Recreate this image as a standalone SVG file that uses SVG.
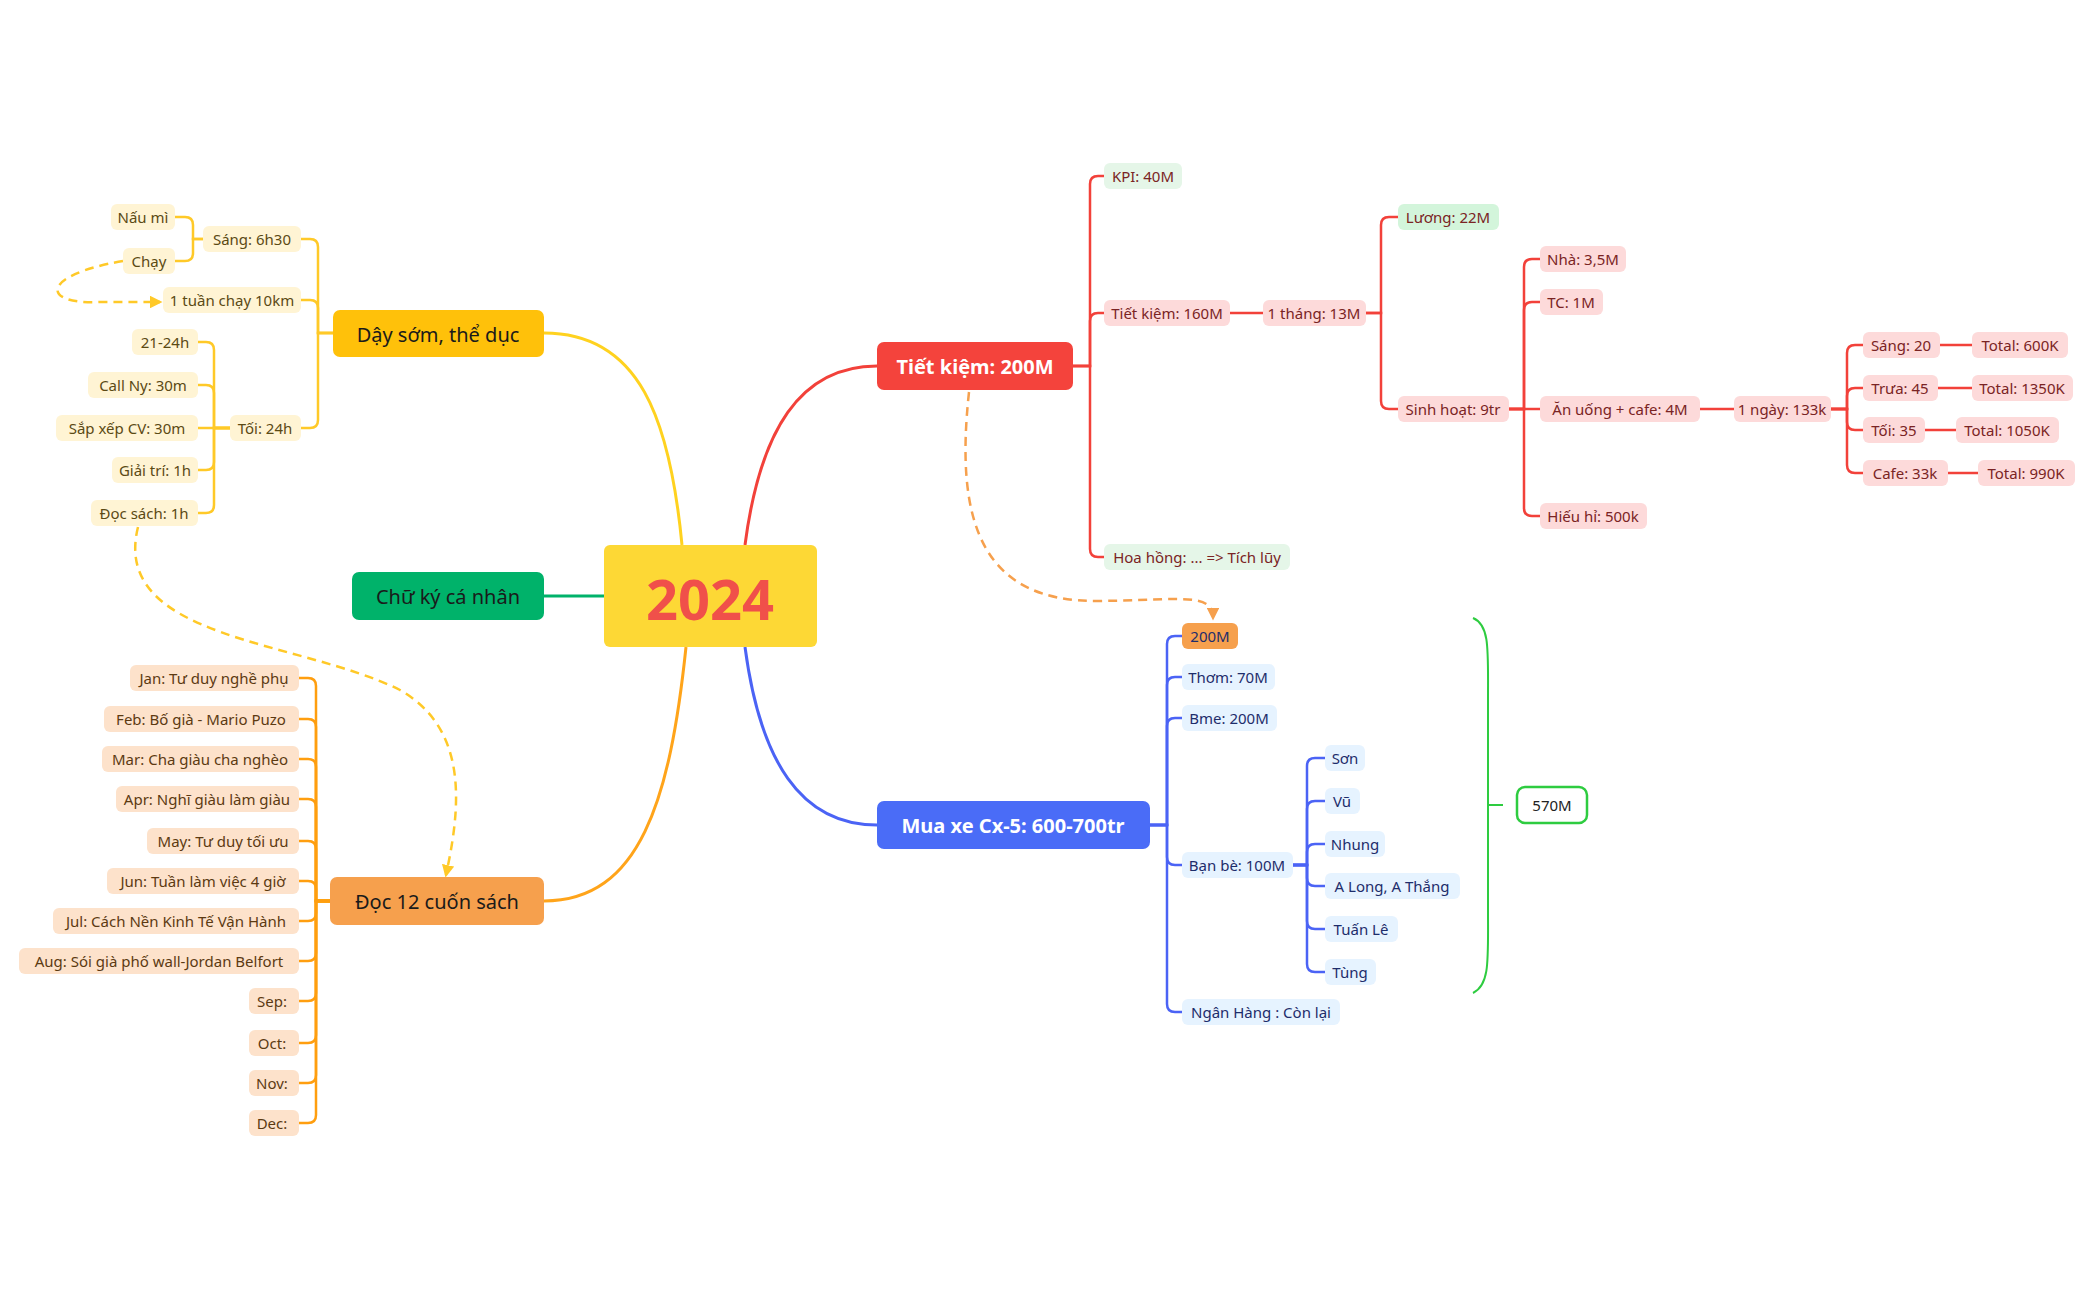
<svg xmlns="http://www.w3.org/2000/svg" width="2096" height="1300" viewBox="0 0 2096 1300">
<defs>
<style>
text{font-family:"Noto Sans","Open Sans",sans-serif;dominant-baseline:central;text-anchor:middle}
.s{font-size:15px}
.m{font-size:20px}
.y rect{fill:#FFF4D4}.y text{fill:#5B4A14}
.o rect{fill:#FDE2CB}.o text{fill:#5C3A12}
.r rect{fill:#FDDADA}.r text{fill:#7A2424}
.g rect{fill:#E5F6E8}.g text{fill:#7A2424}
.b rect{fill:#E6F3FF}.b text{fill:#1E2D6B}
.ly{stroke:#FFC928;stroke-width:2.5;fill:none}
.lo{stroke:#FF9E0F;stroke-width:2.5;fill:none}
.lr{stroke:#F2413A;stroke-width:2.5;fill:none}
.lb{stroke:#4B63F5;stroke-width:2.5;fill:none}
</style>
<marker id="ay" viewBox="0 0 10 10" refX="8" refY="5" markerWidth="5" markerHeight="5" orient="auto"><path d="M0,0L10,5L0,10z" fill="#FFC928"/></marker>
<marker id="ao" viewBox="0 0 10 10" refX="8" refY="5" markerWidth="5" markerHeight="5" orient="auto"><path d="M0,0L10,5L0,10z" fill="#F6A04D"/></marker>
</defs>
<rect width="2096" height="1300" fill="#fff"/>
<g id="connectors">
<path d="M682,545 C670,420 640,333 544,333" stroke="#FFD21F" stroke-width="3" fill="none"/>
<path d="M604,596 H544" stroke="#00B26A" stroke-width="3"/>
<path d="M686,647 C670,800 640,901 544,901" stroke="#FFA41A" stroke-width="3" fill="none"/>
<path d="M745,545 C760,430 800,366 877,366" stroke="#F2413A" stroke-width="3" fill="none"/>
<path d="M745,647 C760,760 800,825 877,825" stroke="#4B63F5" stroke-width="3" fill="none"/>
<g class="ly">
<path d="M333,333 H318 V247 Q318,239 310,239 H301"/>
<path d="M333,333 H318 V308 Q318,300 310,300 H301"/>
<path d="M333,333 H318 V420 Q318,428 310,428 H301"/>
<path d="M203,239 H193 V225 Q193,217 185,217 H175"/>
<path d="M203,239 H193 V253 Q193,261 185,261 H175"/>
<path d="M230,428 H214 V350 Q214,342 206,342 H198"/>
<path d="M230,428 H214 V393 Q214,385 206,385 H198"/>
<path d="M230,428 H198"/>
<path d="M230,428 H214 V462 Q214,470 206,470 H198"/>
<path d="M230,428 H214 V505 Q214,513 206,513 H198"/>
</g>
<g class="ly" stroke-dasharray="9,6">
<path d="M123,261 C40,275 40,305 100,302 L160,302" marker-end="url(#ay)"/>
<path d="M138,527 C110,640 300,640 400,690 C470,730 460,810 446,875" marker-end="url(#ay)"/>
</g>
<g class="lo">
<path d="M330,901 H316 V686 Q316,678 308,678 H299"/>
<path d="M330,901 H316 V727 Q316,719 308,719 H299"/>
<path d="M330,901 H316 V767 Q316,759 308,759 H299"/>
<path d="M330,901 H316 V807 Q316,799 308,799 H299"/>
<path d="M330,901 H316 V849 Q316,841 308,841 H299"/>
<path d="M330,901 H316 V889 Q316,881 308,881 H299"/>
<path d="M330,901 H316 V913 Q316,921 308,921 H299"/>
<path d="M330,901 H316 V953 Q316,961 308,961 H299"/>
<path d="M330,901 H316 V993 Q316,1001 308,1001 H299"/>
<path d="M330,901 H316 V1035 Q316,1043 308,1043 H299"/>
<path d="M330,901 H316 V1075 Q316,1083 308,1083 H299"/>
<path d="M330,901 H316 V1115 Q316,1123 308,1123 H299"/>
</g>
<g class="lr">
<path d="M1073,366 H1090 V184 Q1090,176 1098,176 H1104"/>
<path d="M1073,366 H1090 V321 Q1090,313 1098,313 H1104"/>
<path d="M1073,366 H1090 V549 Q1090,557 1098,557 H1104"/>
<path d="M1230,313 H1263"/>
<path d="M1366,313 H1381 V225 Q1381,217 1389,217 H1398"/>
<path d="M1366,313 H1381 V401 Q1381,409 1389,409 H1398"/>
<path d="M1509,409 H1524 V267 Q1524,259 1532,259 H1540"/>
<path d="M1509,409 H1524 V310 Q1524,302 1532,302 H1540"/>
<path d="M1509,409 H1540"/>
<path d="M1509,409 H1524 V508 Q1524,516 1532,516 H1540"/>
<path d="M1700,409 H1734"/>
<path d="M1831,409 H1847 V353 Q1847,345 1855,345 H1863"/>
<path d="M1831,409 H1847 V396 Q1847,388 1855,388 H1863"/>
<path d="M1831,409 H1847 V422 Q1847,430 1855,430 H1863"/>
<path d="M1831,409 H1847 V465 Q1847,473 1855,473 H1863"/>
<path d="M1940,345 H1972"/>
<path d="M1938,388 H1972"/>
<path d="M1925,430 H1956"/>
<path d="M1948,473 H1978"/>
</g>
<path d="M969,392 C955,520 980,603 1100,601 C1180,600 1213,592 1213,618" stroke="#F6A04D" stroke-width="2.5" fill="none" stroke-dasharray="9,6" marker-end="url(#ao)"/>
<g class="lb">
<path d="M1150,825 H1167 V644 Q1167,636 1175,636 H1182"/>
<path d="M1150,825 H1167 V685 Q1167,677 1175,677 H1182"/>
<path d="M1150,825 H1167 V726 Q1167,718 1175,718 H1182"/>
<path d="M1150,825 H1167 V857 Q1167,865 1175,865 H1182"/>
<path d="M1150,825 H1167 V1004 Q1167,1012 1175,1012 H1182"/>
<path d="M1293,865 H1307 V766 Q1307,758 1315,758 H1325"/>
<path d="M1293,865 H1307 V809 Q1307,801 1315,801 H1325"/>
<path d="M1293,865 H1307 V852 Q1307,844 1315,844 H1325"/>
<path d="M1293,865 H1307 V878 Q1307,886 1315,886 H1325"/>
<path d="M1293,865 H1307 V921 Q1307,929 1315,929 H1325"/>
<path d="M1293,865 H1307 V964 Q1307,972 1315,972 H1325"/>
</g>
<path d="M1473,618 C1490,625 1488,650 1488,700 V910 C1488,960 1490,985 1473,993 M1488,805 H1503" stroke="#2ECC40" stroke-width="2" fill="none"/>
</g>
<g id="n2024"><rect x="604" y="545" width="213" height="102" rx="6" fill="#FDD835"/><text x="710" y="598" font-size="56" font-weight="bold" fill="#F0504A">2024</text></g>
<g id="nday"><rect x="333" y="310" width="211" height="47" rx="7" fill="#FFC10A"/><text class="m" x="438" y="334" fill="#1a1a1a">Dậy sớm, thể dục</text></g>
<g id="nchu"><rect x="352" y="572" width="192" height="48" rx="7" fill="#00B26A"/><text class="m" x="448" y="596" fill="#1a1a1a">Chữ ký cá nhân</text></g>
<g id="ndoc"><rect x="330" y="877" width="214" height="48" rx="7" fill="#F6A04D"/><text class="m" x="437" y="901" fill="#1a1a1a">Đọc 12 cuốn sách</text></g>
<g id="ntiet"><rect x="877" y="342" width="196" height="48" rx="7" fill="#F4433C"/><text class="m" x="975" y="366" fill="#fff" font-weight="bold">Tiết kiệm: 200M</text></g>
<g id="nmua"><rect x="877" y="801" width="273" height="48" rx="7" fill="#4A6CF7"/><text class="m" x="1013" y="825" fill="#fff" font-weight="bold">Mua xe Cx-5: 600-700tr</text></g>
<g class="y s">
<g id="y1"><rect x="203" y="226" width="98" height="26" rx="6"/><text x="252" y="239">Sáng: 6h30</text></g>
<g id="y2"><rect x="111" y="204" width="64" height="26" rx="6"/><text x="143" y="217">Nấu mì</text></g>
<g id="y3"><rect x="123" y="248" width="52" height="26" rx="6"/><text x="149" y="261">Chạy</text></g>
<g id="y4"><rect x="163" y="287" width="138" height="26" rx="6"/><text x="232" y="300">1 tuần chạy 10km</text></g>
<g id="y5"><rect x="230" y="415" width="71" height="26" rx="6"/><text x="265" y="428">Tối: 24h</text></g>
<g id="y6"><rect x="132" y="329" width="66" height="26" rx="6"/><text x="165" y="342">21-24h</text></g>
<g id="y7"><rect x="88" y="372" width="110" height="26" rx="6"/><text x="143" y="385">Call Ny: 30m</text></g>
<g id="y8"><rect x="56" y="415" width="142" height="26" rx="6"/><text x="127" y="428">Sắp xếp CV: 30m</text></g>
<g id="y9"><rect x="112" y="457" width="86" height="26" rx="6"/><text x="155" y="470">Giải trí: 1h</text></g>
<g id="y10"><rect x="91" y="500" width="107" height="26" rx="6"/><text x="144" y="513">Đọc sách: 1h</text></g>
</g>
<g class="o s">
<g id="o1"><rect x="130" y="665" width="169" height="26" rx="6"/><text x="214" y="678">Jan: Tư duy nghề phụ</text></g>
<g id="o2"><rect x="104" y="706" width="195" height="26" rx="6"/><text x="201" y="719">Feb: Bố già - Mario Puzo</text></g>
<g id="o3"><rect x="102" y="746" width="197" height="26" rx="6"/><text x="200" y="759">Mar: Cha giàu cha nghèo</text></g>
<g id="o4"><rect x="116" y="786" width="183" height="26" rx="6"/><text x="207" y="799">Apr: Nghĩ giàu làm giàu</text></g>
<g id="o5"><rect x="147" y="828" width="152" height="26" rx="6"/><text x="223" y="841">May: Tư duy tối ưu</text></g>
<g id="o6"><rect x="107" y="868" width="192" height="26" rx="6"/><text x="203" y="881">Jun: Tuần làm việc 4 giờ</text></g>
<g id="o7"><rect x="53" y="908" width="246" height="26" rx="6"/><text x="176" y="921">Jul: Cách Nền Kinh Tế Vận Hành</text></g>
<g id="o8"><rect x="19" y="948" width="280" height="26" rx="6"/><text x="159" y="961">Aug: Sói già phố wall-Jordan Belfort</text></g>
<g id="o9"><rect x="249" y="988" width="50" height="26" rx="6"/><text x="272" y="1001">Sep:</text></g>
<g id="o10"><rect x="249" y="1030" width="50" height="26" rx="6"/><text x="272" y="1043">Oct:</text></g>
<g id="o11"><rect x="249" y="1070" width="50" height="26" rx="6"/><text x="272" y="1083">Nov:</text></g>
<g id="o12"><rect x="249" y="1110" width="50" height="26" rx="6"/><text x="272" y="1123">Dec:</text></g>
</g>
<g class="s">
<g id="r1" class="g"><rect x="1104" y="163" width="78" height="26" rx="6"/><text x="1143" y="176">KPI: 40M</text></g>
<g id="r2" class="r"><rect x="1104" y="300" width="126" height="26" rx="6"/><text x="1167" y="313">Tiết kiệm: 160M</text></g>
<g id="r3" class="g"><rect x="1104" y="544" width="186" height="26" rx="6"/><text x="1197" y="557">Hoa hồng: ... =&gt; Tích lũy</text></g>
<g id="r4" class="r"><rect x="1263" y="300" width="103" height="26" rx="6"/><text x="1314" y="313">1 tháng: 13M</text></g>
<g id="r5" class="g"><rect x="1398" y="204" width="101" height="26" rx="6" style="fill:#D3F5DB"/><text x="1448" y="217">Lương: 22M</text></g>
<g id="r6" class="r"><rect x="1398" y="396" width="111" height="26" rx="6"/><text x="1453" y="409">Sinh hoạt: 9tr</text></g>
<g id="r7" class="r"><rect x="1540" y="246" width="86" height="26" rx="6"/><text x="1583" y="259">Nhà: 3,5M</text></g>
<g id="r8" class="r"><rect x="1540" y="289" width="63" height="26" rx="6"/><text x="1571" y="302">TC: 1M</text></g>
<g id="r9" class="r"><rect x="1540" y="396" width="160" height="26" rx="6"/><text x="1620" y="409">Ăn uống + cafe: 4M</text></g>
<g id="r10" class="r"><rect x="1540" y="503" width="107" height="26" rx="6"/><text x="1593" y="516">Hiếu hỉ: 500k</text></g>
<g id="r11" class="r"><rect x="1734" y="396" width="97" height="26" rx="6"/><text x="1782" y="409">1 ngày: 133k</text></g>
<g id="r12" class="r"><rect x="1863" y="332" width="77" height="26" rx="6"/><text x="1901" y="345">Sáng: 20</text></g>
<g id="r13" class="r"><rect x="1972" y="332" width="96" height="26" rx="6"/><text x="2020" y="345">Total: 600K</text></g>
<g id="r14" class="r"><rect x="1863" y="375" width="75" height="26" rx="6"/><text x="1900" y="388">Trưa: 45</text></g>
<g id="r15" class="r"><rect x="1972" y="375" width="101" height="26" rx="6"/><text x="2022" y="388">Total: 1350K</text></g>
<g id="r16" class="r"><rect x="1863" y="417" width="62" height="26" rx="6"/><text x="1894" y="430">Tối: 35</text></g>
<g id="r17" class="r"><rect x="1956" y="417" width="103" height="26" rx="6"/><text x="2007" y="430">Total: 1050K</text></g>
<g id="r18" class="r"><rect x="1863" y="460" width="85" height="26" rx="6"/><text x="1905" y="473">Cafe: 33k</text></g>
<g id="r19" class="r"><rect x="1978" y="460" width="97" height="26" rx="6"/><text x="2026" y="473">Total: 990K</text></g>
</g>
<g class="b s">
<g id="b1"><rect x="1182" y="623" width="56" height="26" rx="6" style="fill:#F6A04D"/><text x="1210" y="636">200M</text></g>
<g id="b2"><rect x="1182" y="664" width="93" height="26" rx="6"/><text x="1228" y="677">Thơm: 70M</text></g>
<g id="b3"><rect x="1182" y="705" width="95" height="26" rx="6"/><text x="1229" y="718">Bme: 200M</text></g>
<g id="b4"><rect x="1182" y="852" width="111" height="26" rx="6"/><text x="1237" y="865">Bạn bè: 100M</text></g>
<g id="b5"><rect x="1182" y="999" width="158" height="26" rx="6"/><text x="1261" y="1012">Ngân Hàng : Còn lại</text></g>
<g id="b6"><rect x="1325" y="745" width="40" height="26" rx="6"/><text x="1345" y="758">Sơn</text></g>
<g id="b7"><rect x="1325" y="788" width="35" height="26" rx="6"/><text x="1342" y="801">Vũ</text></g>
<g id="b8"><rect x="1325" y="831" width="60" height="26" rx="6"/><text x="1355" y="844">Nhung</text></g>
<g id="b9"><rect x="1325" y="873" width="135" height="26" rx="6"/><text x="1392" y="886">A Long, A Thắng</text></g>
<g id="b10"><rect x="1325" y="916" width="73" height="26" rx="6"/><text x="1361" y="929">Tuấn Lê</text></g>
<g id="b11"><rect x="1325" y="959" width="51" height="26" rx="6"/><text x="1350" y="972">Tùng</text></g>
</g>
<g id="n570"><rect x="1517" y="787" width="70" height="36" rx="8" fill="#fff" stroke="#2ECC40" stroke-width="2.5"/><text class="s" x="1552" y="805" fill="#222">570M</text></g>
</svg>
